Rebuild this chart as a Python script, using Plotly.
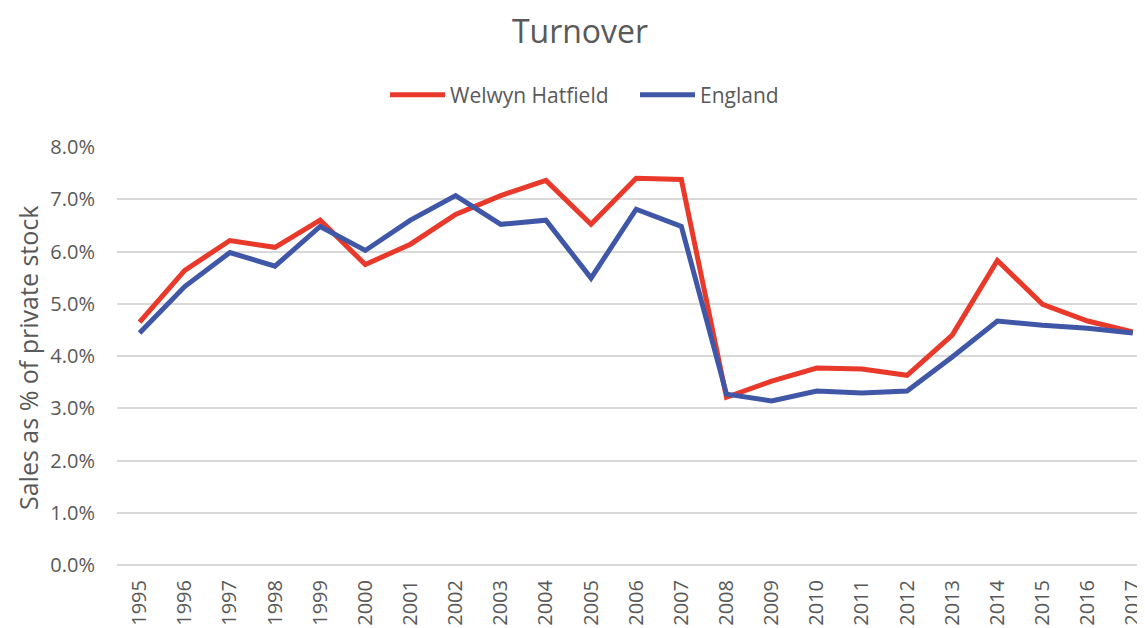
import plotly.graph_objects as go

years = [str(y) for y in range(1995, 2018)]
welwyn = [4.65, 5.64, 6.21, 6.08, 6.60, 5.75, 6.14, 6.71, 7.07, 7.36, 6.52, 7.40, 7.38,
          3.21, 3.52, 3.77, 3.75, 3.63, 4.40, 5.83, 4.99, 4.67, 4.46]
england = [4.44, 5.33, 5.98, 5.72, 6.48, 6.02, 6.60, 7.07, 6.52, 6.60, 5.49, 6.81, 6.48,
           3.27, 3.14, 3.33, 3.29, 3.33, 3.98, 4.67, 4.59, 4.53, 4.44]
welwyn = [v / 100 for v in welwyn]
england = [v / 100 for v in england]

FONT = "'Open Sans', sans-serif"
GREY = "#595959"

# the page body has an 8px margin; figure is sized/laid out to compensate
W, H = 1137, 620

fig = go.Figure()
fig.add_trace(go.Scatter(x=list(range(len(years))), y=welwyn, name="Welwyn Hatfield", mode="lines",
                         line=dict(color="#E8392A", width=5)))
fig.add_trace(go.Scatter(x=list(range(len(years))), y=england, name="England", mode="lines",
                         line=dict(color="#3F57A6", width=5)))

fig.update_layout(
    width=W, height=H,
    margin=dict(l=109, r=0, t=139, b=63, autoexpand=False),
    paper_bgcolor="white", plot_bgcolor="white",
    font=dict(family=FONT, color=GREY, size=20),
    title=dict(text="Turnover", x=572 / W, xref="container", xanchor="center",
               y=1 - 24 / H, yref="container", yanchor="middle",
               font=dict(size=32, color=GREY, family=FONT)),
    legend=dict(orientation="h", x=(385 - 117) / 1028, xanchor="left",
                y=1 - 87 / H, yref="container", yanchor="middle", itemwidth=55,
                entrywidth=180, entrywidthmode="pixels",
                font=dict(size=21, color=GREY, family=FONT)),
    showlegend=True,
    annotations=[dict(text="Sales as % of private stock", xref="paper", yref="paper",
                      x=(28 - 117) / 1028, y=(565 - 358) / 418, xanchor="center", yanchor="middle",
                      textangle=-90, showarrow=False,
                      font=dict(size=25, color=GREY, family=FONT))],
)
fig.update_xaxes(
    tickmode="array", tickvals=list(range(len(years))), ticktext=years,
    range=[-0.5, 22.27], tickangle=-90, showgrid=False, zeroline=False,
    showline=False, ticks="", automargin=False, ticklabelstandoff=10,
    ticklabeloverflow="allow",
    tickfont=dict(size=20, color=GREY, family=FONT),
)
fig.update_yaxes(
    range=[0, 0.08], dtick=0.01, tickformat=".1%", showgrid=True, gridcolor="#D9D9D9",
    gridwidth=1.5, zeroline=True, zerolinecolor="#D9D9D9", zerolinewidth=1.5,
    showline=False, ticks="", automargin=False, ticklabelstandoff=21,
    tickfont=dict(size=20, color=GREY, family=FONT),
)

fig.write_html("out.html")
